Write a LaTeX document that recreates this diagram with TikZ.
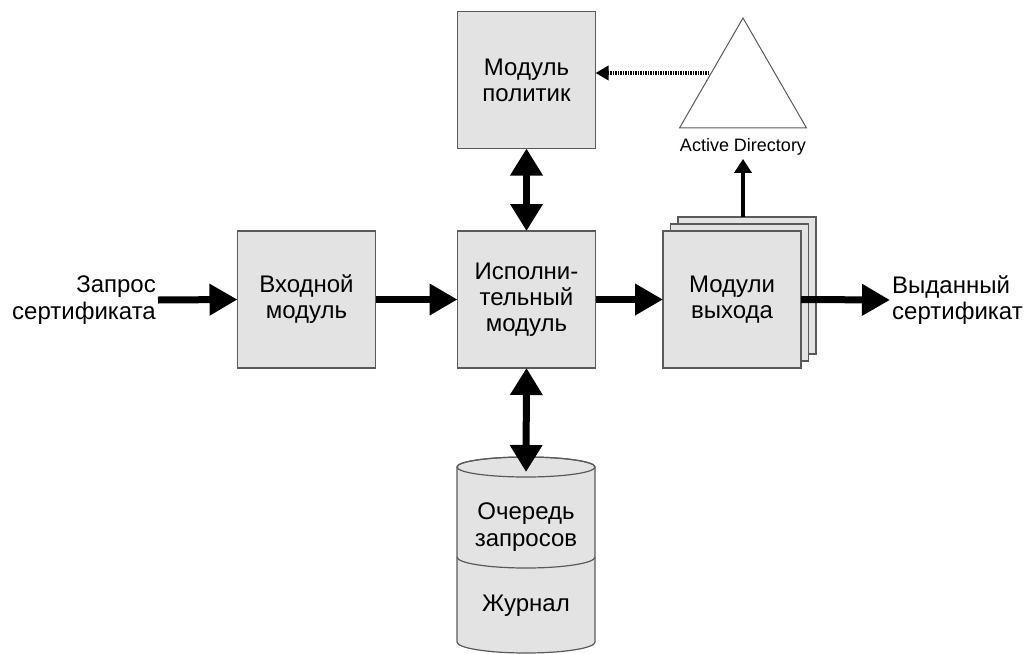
\documentclass[tikz,border=0pt]{standalone}
\usepackage{fontspec}
\setmainfont{Liberation Sans}
\usetikzlibrary{calc, shapes.geometric, positioning, arrows.meta}
\definecolor{boxgray}{HTML}{E3E3E3}
\definecolor{edgegray}{HTML}{5A5A5A}
\tikzset{
  module/.style={draw=edgegray, fill=boxgray, line width=1.2pt, minimum width=138pt, minimum height=137pt, inner sep=0pt, outer sep=0pt, align=center, font=\fontsize{24}{26}\selectfont},
  txt/.style={inner sep=2pt, font=\fontsize{24}{26.5}\selectfont},
  bigarrow/.style={line width=7pt, -{Triangle[length=28pt,width=30pt]}},
  twoway/.style={line width=7pt, {Triangle[length=27pt,width=31pt]}-{Triangle[length=27pt,width=31pt]}},
  dotarrow/.style={line width=4pt, dash pattern=on 1.5pt off 1pt, -{Triangle[length=13pt,width=14pt]}},
  thinarrow/.style={line width=4pt, -{Triangle[length=14pt,width=17pt]}}
}

\begin{document}
\begin{tikzpicture}[x=1pt,y=-1pt]
\useasboundingbox (0,0) rectangle (1035,653);
% modules
\node[module] (in) at (306.5,299.5) {Входной\\модуль};
\node[module] (exec) at (526.5,299.5) {Исполни-\\тельный\\модуль};
\node[module] (policy) at (526.5,80) {Модуль\\политик};
\node[module] (out3) at (747,285.5) {};
\node[module] (out2) at (739.5,292.5) {};
\node[module] (out) at (732,299.5) {Модули\\выхода};
% active directory
\node[regular polygon, regular polygon sides=3, draw=edgegray, fill=white, line width=1pt, minimum size=146.6pt, inner sep=0pt, outer sep=0pt] (ad) at (743,91.3) {};
\node[font=\fontsize{18}{20}\selectfont] (adlabel) at (743,147) {Active Directory};
\coordinate (adleft) at (709,73);
% request / certificate
\node[txt, anchor=east, align=right] (req) at (158,300) {Запрос\\сертификата};
\node[txt, anchor=west, align=left] (cert) at (890,300) {Выданный\\сертификат};
% queue (cylinder)
\draw[edgegray, fill=boxgray, line width=1.2pt] (457,467) -- (457,642)
  arc[start angle=180, end angle=0, x radius=69, y radius=11] -- (595,467)
  arc[start angle=0, end angle=-180, x radius=69, y radius=10] -- cycle;
\draw[edgegray, line width=1.2pt] (526,467) ellipse[x radius=69, y radius=10];
\draw[edgegray, line width=1.2pt] (457,557) arc[start angle=180, end angle=0, x radius=69, y radius=11];
\node[txt, align=center] (queue) at (526,527) {Очередь\\запросов};
\node[txt] (journal) at (526,606) {Журнал};
\coordinate (dbtop) at (526,472);
% connectors
\draw[bigarrow] (req.east) -- (in.west);
\draw[bigarrow] (in.east) -- (exec.west);
\draw[bigarrow] (exec.east) -- (out.west);
\draw[bigarrow] (out.east) -- (cert.west);
\draw[twoway] (policy.south) -- (exec.north);
\draw[twoway] (exec.south) -- (dbtop);
\draw[dotarrow] (adleft) -- (adleft -| policy.east);
\draw[thinarrow] (adlabel.south |- out3.north) -- (adlabel.south);
\end{tikzpicture}
\end{document}
